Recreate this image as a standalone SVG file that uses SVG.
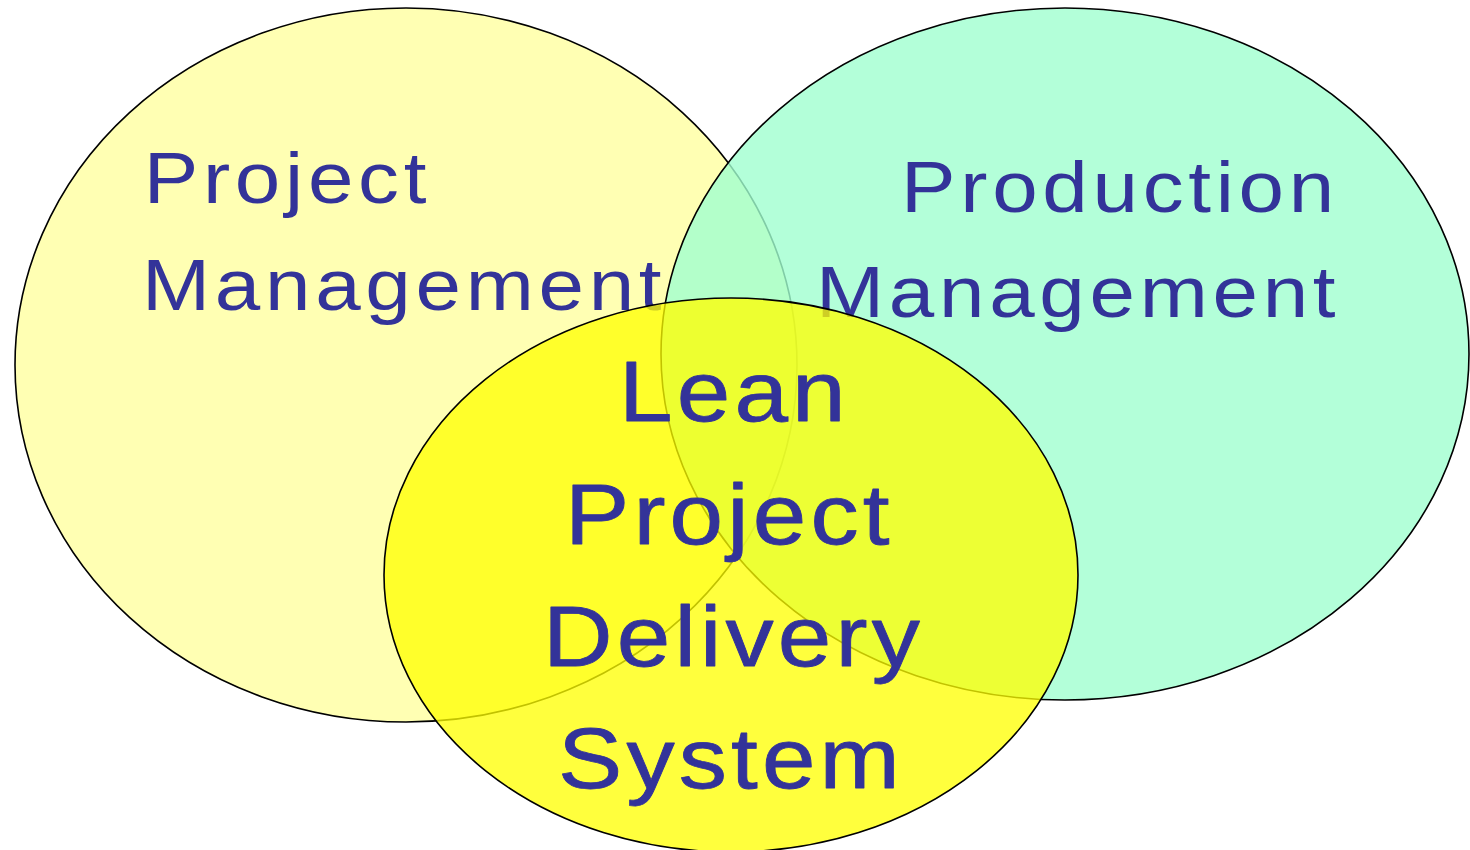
<svg xmlns="http://www.w3.org/2000/svg" width="1470" height="850" viewBox="0 0 1470 850">
<style>
.outline{stroke:#000;stroke-width:1.6}
.lbl{font-family:"Liberation Sans",Arial,sans-serif;fill:#333399}
.small{font-size:73px;letter-spacing:4.2px}
.big{font-size:86px;letter-spacing:3.7px;stroke:#333399;stroke-width:0.8;stroke-linejoin:round}
</style>
<rect width="1470" height="850" fill="#fff"/>
<g id="project-management">
<ellipse class="outline" cx="406" cy="365" rx="391" ry="357" fill="#ffffb3"/>
<text class="lbl small" transform="translate(143.7,203) scale(1.12,1)">Project</text>
<text class="lbl small" transform="translate(142,310) scale(1.12,1)">Management</text>
</g>
<g id="production-management">
<ellipse class="outline" cx="1065" cy="354" rx="404" ry="346" fill="rgb(160,255,208)" fill-opacity="0.8"/>
<text class="lbl small" transform="translate(901,211.5) scale(1.12,1)">Production</text>
<text class="lbl small" transform="translate(816,316.5) scale(1.12,1)">Management</text>
</g>
<g id="lean-project-delivery-system">
<ellipse class="outline" cx="731" cy="575" rx="347" ry="277" fill="#ffff00" fill-opacity="0.76"/>
<text class="lbl big" transform="translate(619,421) scale(1.12,1)">Lean</text>
<text class="lbl big" transform="translate(565,543.5) scale(1.12,1)">Project</text>
<text class="lbl big" transform="translate(543,666) scale(1.12,1)">Delivery</text>
<text class="lbl big" transform="translate(558,788) scale(1.12,1)">System</text>
</g>
</svg>
